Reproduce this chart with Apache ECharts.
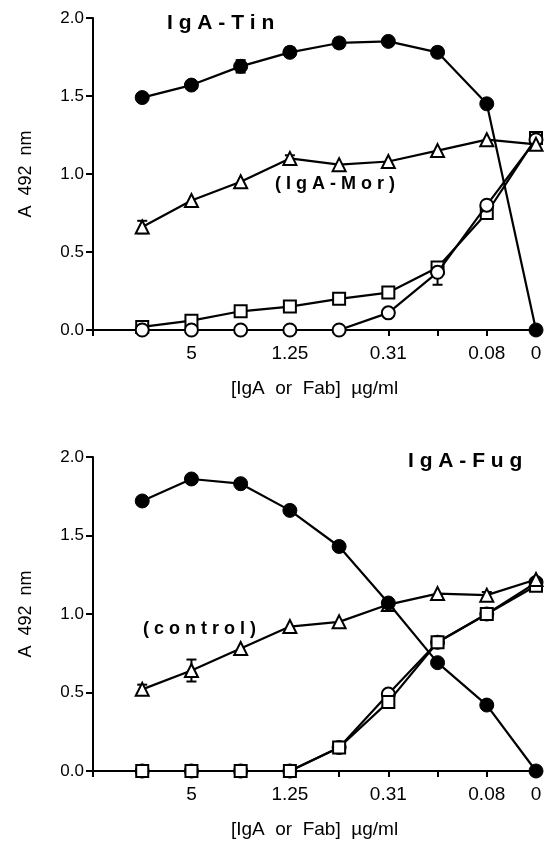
<!DOCTYPE html>
<html style="height: 100%">
<head>
    <meta charset="utf-8">
    <title>IgA binding</title>
    <script src="https://cdn.jsdelivr.net/npm/echarts@6/dist/echarts.min.js"></script>
</head>
<body style="height: 100%; margin: 0; background: #fff">
<div id="container" style="width: 547px; height: 846px"></div>
<script type="text/javascript">
    // dilution steps (x positions) and their tick labels
    var xPos = [1, 2, 3, 4, 5, 6, 7, 8, 9];
    var tickPos = [2, 4, 6, 8, 9];
    var tickLabels = ['5', '1.25', '0.31', '0.08', '0'];

    // top panel: IgA-Tin
    var tinFilled = [1.49, 1.57, 1.69, 1.78, 1.84, 1.85, 1.78, 1.45, 0.00];
    var tinFilledErr = [0, 0, 0.04, 0.03, 0.03, 0.02, 0.03, 0, 0];
    var morTri = [0.66, 0.83, 0.95, 1.10, 1.06, 1.08, 1.15, 1.22, 1.19];
    var morTriErr = [0.04, 0, 0, 0.02, 0, 0, 0, 0, 0];
    var tinSquare = [0.02, 0.06, 0.12, 0.15, 0.20, 0.24, 0.40, 0.75, 1.23];
    var tinOpen = [0, 0, 0, 0, 0, 0.11, 0.37, 0.80, 1.22];
    var tinOpenErrDown = [0, 0, 0, 0, 0, 0, 0.08, 0, 0];

    // bottom panel: IgA-Fug
    var fugFilled = [1.72, 1.86, 1.83, 1.66, 1.43, 1.07, 0.69, 0.42, 0.00];
    var ctrlTri = [0.52, 0.64, 0.78, 0.92, 0.95, 1.06, 1.13, 1.12, 1.22];
    var ctrlTriErr = [0.03, 0.07, 0, 0, 0, 0.03, 0, 0.02, 0];
    var fugSquare = [0, 0, 0, 0, 0.15, 0.44, 0.82, 1.00, 1.18];
    var fugOpen = [0, 0, 0, 0, 0.15, 0.49, 0.82, 1.00, 1.20];

    var FONT = 'Liberation Sans, Arial, Helvetica, sans-serif';
    var zeros = [0, 0, 0, 0, 0, 0, 0, 0, 0];

    var dom = document.getElementById('container');
    var myChart = echarts.init(dom);

    function pairs(vals) {
        var out = [];
        for (var i = 0; i < vals.length; i++) out.push([xPos[i], vals[i]]);
        return out;
    }

    var markerStyles = {
        filled: { symbol: 'circle', symbolSize: 14, itemStyle: { color: '#000', borderColor: '#000', borderWidth: 1 } },
        open: { symbol: 'circle', symbolSize: 13, itemStyle: { color: '#fff', borderColor: '#000', borderWidth: 2 } },
        square: { symbol: 'rect', symbolSize: 12, itemStyle: { color: '#fff', borderColor: '#000', borderWidth: 2 } },
        tri: { symbol: 'triangle', symbolSize: 13, itemStyle: { color: '#fff', borderColor: '#000', borderWidth: 2 } }
    };

    function lineSeries(panel, vals, kind, z) {
        var m = markerStyles[kind];
        return {
            type: 'line',
            xAxisIndex: panel,
            yAxisIndex: panel,
            data: pairs(vals),
            symbol: m.symbol,
            symbolSize: m.symbolSize,
            showAllSymbol: true,
            itemStyle: m.itemStyle,
            lineStyle: { color: '#000', width: 2.2 },
            animation: false,
            z: z
        };
    }

    function errSeries(panel, vals, down, up, z) {
        var data = [];
        for (var i = 0; i < vals.length; i++) {
            if (down[i] > 0 || up[i] > 0) {
                data.push([xPos[i], vals[i] - down[i], vals[i] + up[i]]);
            }
        }
        return {
            type: 'custom',
            xAxisIndex: panel,
            yAxisIndex: panel,
            data: data,
            encode: { x: 0, y: [1, 2] },
            animation: false,
            z: z,
            renderItem: function (params, api) {
                var lo = api.coord([api.value(0), api.value(1)]);
                var hi = api.coord([api.value(0), api.value(2)]);
                var w = 5;
                var st = { stroke: '#000', lineWidth: 2 };
                return {
                    type: 'group',
                    children: [
                        { type: 'line', shape: { x1: lo[0], y1: lo[1], x2: hi[0], y2: hi[1] }, style: st },
                        { type: 'line', shape: { x1: lo[0] - w, y1: lo[1], x2: lo[0] + w, y2: lo[1] }, style: st },
                        { type: 'line', shape: { x1: hi[0] - w, y1: hi[1], x2: hi[0] + w, y2: hi[1] }, style: st }
                    ]
                };
            }
        };
    }

    function xAxisFor(panel) {
        return {
            type: 'value',
            gridIndex: panel,
            min: 0,
            max: 9,
            interval: 1,
            name: '[IgA  or  Fab]  µg/ml',
            nameLocation: 'middle',
            nameGap: 49,
            nameTextStyle: { fontFamily: FONT, fontSize: 19, color: '#000' },
            axisLine: { show: true, onZero: false, lineStyle: { color: '#000', width: 2 } },
            axisTick: { show: true, length: 6, lineStyle: { color: '#000', width: 2 } },
            axisLabel: {
                margin: 14,
                fontFamily: FONT,
                fontSize: 19,
                color: '#000',
                formatter: function (v) {
                    var k = tickPos.indexOf(v);
                    return k >= 0 ? tickLabels[k] : '';
                }
            },
            splitLine: { show: false }
        };
    }

    function yAxisFor(panel) {
        return {
            type: 'value',
            gridIndex: panel,
            min: 0,
            max: 2,
            interval: 0.5,
            name: 'A  492  nm',
            nameLocation: 'middle',
            nameGap: 58,
            nameTextStyle: { fontFamily: FONT, fontSize: 18, color: '#000' },
            axisLine: { show: true, lineStyle: { color: '#000', width: 2 } },
            axisTick: { show: true, length: 7, lineStyle: { color: '#000', width: 2 } },
            axisLabel: {
                margin: 9,
                fontFamily: FONT,
                fontSize: 17,
                color: '#000',
                formatter: function (v) { return v.toFixed(1); }
            },
            splitLine: { show: false }
        };
    }

    function label(text, x, y, size) {
        return {
            type: 'text',
            x: x,
            y: y,
            z: 100,
            style: {
                text: text,
                font: 'bold ' + size + 'px ' + FONT,
                fill: '#000',
                verticalAlign: 'middle',
                textVerticalAlign: 'middle'
            }
        };
    }

    option = {
        backgroundColor: '#fff',
        animation: false,
        grid: [
            { left: 93, right: 11, top: 18, bottom: 516 },
            { left: 93, right: 11, top: 457, bottom: 75 }
        ],
        xAxis: [xAxisFor(0), xAxisFor(1)],
        yAxis: [yAxisFor(0), yAxisFor(1)],
        graphic: [
            label('I g A - T i n', 167, 23, 21),
            label('( I g A - M o r )', 275, 184, 18),
            label('I g A - F u g', 408, 461, 21),
            label('( c o n t r o l )', 143, 629, 18)
        ],
        series: [
            lineSeries(0, tinSquare, 'square', 2),
            lineSeries(0, tinOpen, 'open', 3),
            errSeries(0, tinOpen, tinOpenErrDown, zeros, 2),
            lineSeries(0, morTri, 'tri', 4),
            errSeries(0, morTri, morTriErr, morTriErr, 3),
            lineSeries(0, tinFilled, 'filled', 5),
            errSeries(0, tinFilled, tinFilledErr, tinFilledErr, 5),

            lineSeries(1, fugOpen, 'open', 2),
            lineSeries(1, fugSquare, 'square', 3),
            lineSeries(1, ctrlTri, 'tri', 4),
            errSeries(1, ctrlTri, ctrlTriErr, ctrlTriErr, 3),
            lineSeries(1, fugFilled, 'filled', 5)
        ]
    };

    if (option && typeof option === 'object') {
        myChart.setOption(option, true);
    }
</script>
</body>
</html>
